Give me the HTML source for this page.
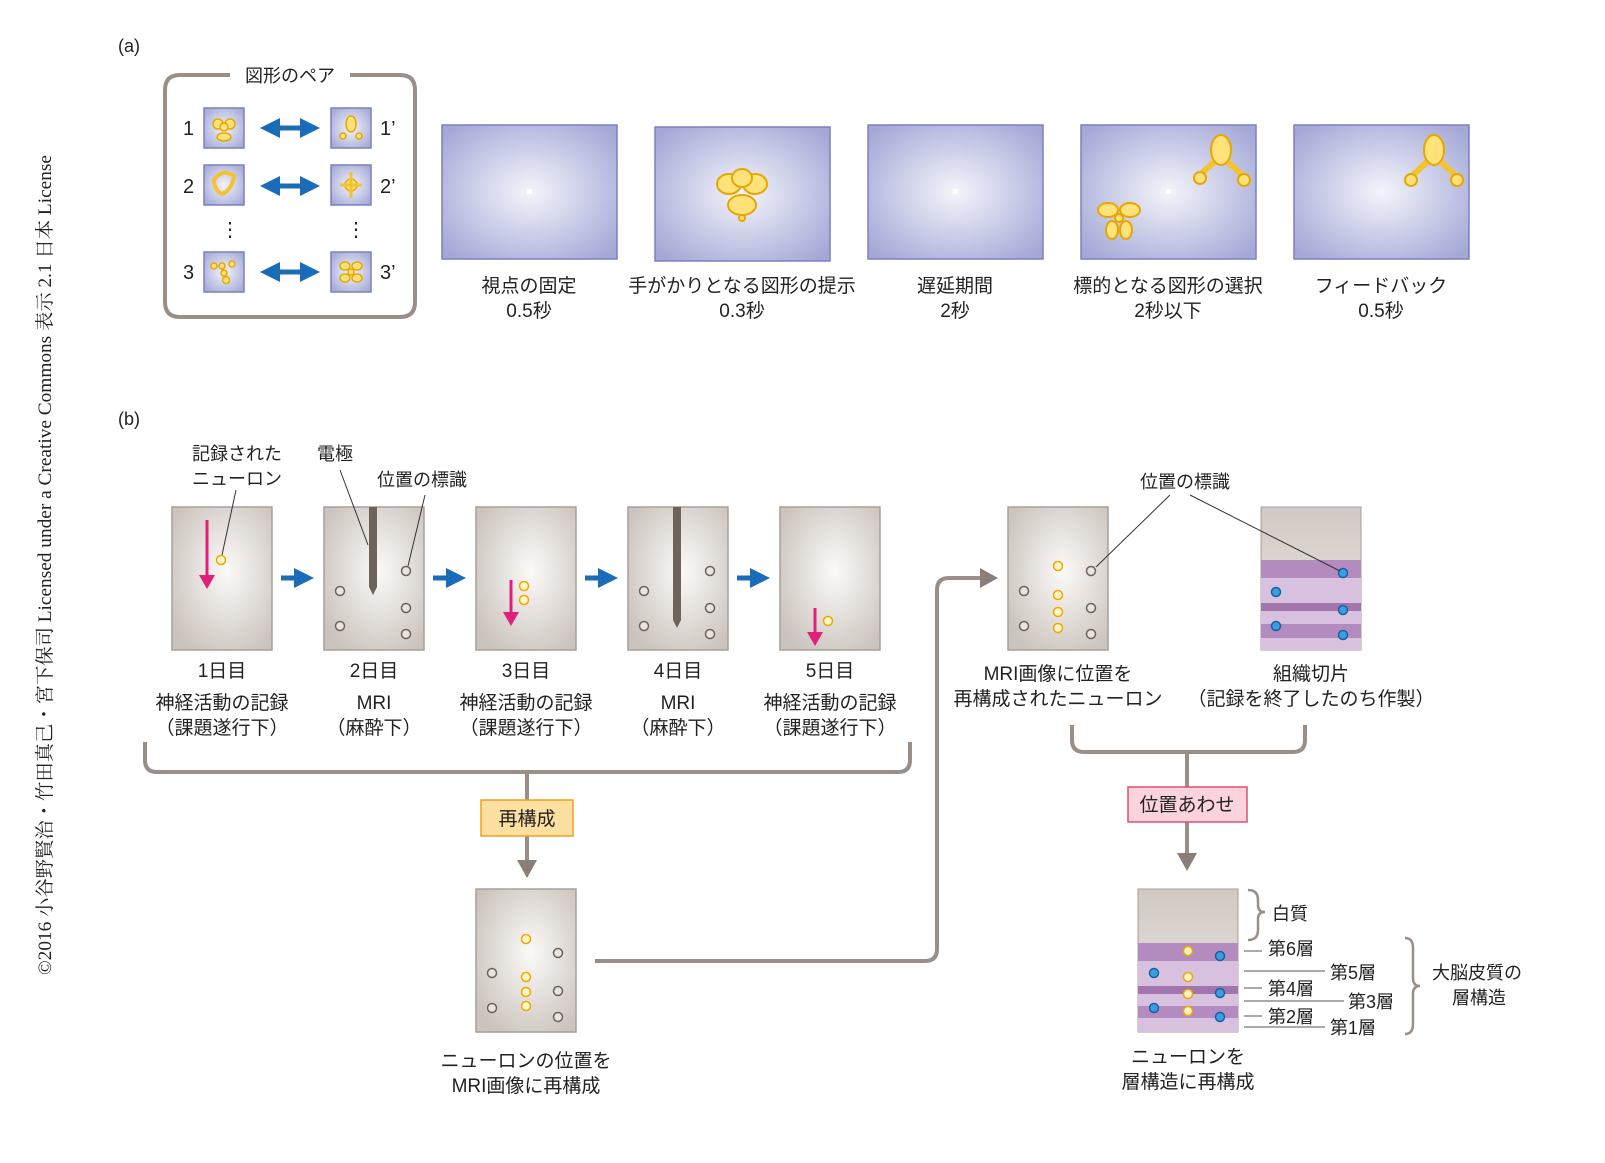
<!DOCTYPE html>
<html><head><meta charset="utf-8"><style>
body{margin:0;background:#fff}
svg text{font-family:"Liberation Sans","Noto Sans CJK JP",sans-serif;fill:#222}
</style></head><body>
<svg width="1605" height="1158" viewBox="0 0 1605 1158" xmlns="http://www.w3.org/2000/svg">
<defs>
<radialGradient id="bl" cx="50%" cy="50%" r="65%"><stop offset="0" stop-color="#f4f4fb"/><stop offset="1" stop-color="#a3a8d6"/></radialGradient>
<radialGradient id="gr" cx="55%" cy="45%" r="65%"><stop offset="0" stop-color="#fbfaf8"/><stop offset="1" stop-color="#cbc3bd"/></radialGradient>
<linearGradient id="gt" x1="0" y1="0" x2="0" y2="1"><stop offset="0" stop-color="#d0c8c3"/><stop offset="1" stop-color="#eeeae6"/></linearGradient>
<marker id="ba" markerWidth="4" markerHeight="4" refX="2" refY="2" orient="auto-start-reverse"><path d="M0,0L4,2L0,4Z" fill="#1a6bb8"/></marker>
</defs>
<text x="118" y="52" font-size="18">(a)</text>
<text x="118" y="425" font-size="18">(b)</text>
<text transform="translate(51,975) rotate(-90)" font-size="19" textLength="820" lengthAdjust="spacingAndGlyphs" style="font-family:'Liberation Serif','Noto Serif CJK SC',serif">©2016 小谷野賢治・竹田真己・宮下保司 Licensed under a Creative Commons 表示 2.1 日本 License</text>

<path d="M230,75 H180 Q165,75 165,90 V302 Q165,317 180,317 H400 Q415,317 415,302 V90 Q415,75 400,75 H350" fill="none" stroke="#9b8e86" stroke-width="4"/>
<text x="290" y="82" font-size="18" text-anchor="middle">図形のペア</text>
<g font-size="20">
<text x="183" y="135">1</text><text x="380" y="135">1’</text>
<text x="183" y="193">2</text><text x="380" y="193">2’</text>
<text x="183" y="279">3</text><text x="380" y="279">3’</text>
<text x="220" y="236">⋮</text><text x="346" y="236">⋮</text>
</g>
<g stroke="#7a80c0" stroke-width="1.5" fill="url(#bl)">
<rect x="204" y="108" width="40" height="40"/><rect x="331" y="108" width="40" height="40"/>
<rect x="204" y="165" width="40" height="40"/><rect x="331" y="165" width="40" height="40"/>
<rect x="204" y="252" width="40" height="40"/><rect x="331" y="252" width="40" height="40"/>
</g>
<g fill="#ffe27a" stroke="#e7a700" stroke-width="1.5">
<circle cx="218" cy="124" r="5"/><circle cx="230" cy="124" r="5"/><circle cx="224" cy="127" r="4"/><ellipse cx="224" cy="137" rx="7" ry="4"/>
<ellipse cx="351" cy="124" rx="5" ry="8"/><circle cx="343" cy="136" r="3"/><circle cx="359" cy="136" r="3"/>
<path d="M214,180 Q222,168 234,176 Q232,190 222,194 Q214,190 214,180Z" fill="none" stroke-width="4" stroke="#f4c330"/>
<circle cx="351" cy="185" r="6"/><path d="M340,185 H362 M351,172 V198" stroke-width="3" stroke="#f4c330"/>
<circle cx="214" cy="266" r="3"/><circle cx="222" cy="266" r="3"/><circle cx="232" cy="264" r="3"/><circle cx="226" cy="280" r="3.5"/><circle cx="224" cy="273" r="3"/>
<ellipse cx="345" cy="266" rx="5" ry="4"/><ellipse cx="357" cy="266" rx="5" ry="4"/><ellipse cx="345" cy="278" rx="5" ry="4"/><ellipse cx="357" cy="278" rx="5" ry="4"/><circle cx="351" cy="272" r="3"/>
</g>
<g stroke="#1a6bb8" stroke-width="5" marker-start="url(#ba)" marker-end="url(#ba)">
<line x1="270" y1="128" x2="310" y2="128"/><line x1="270" y1="186" x2="310" y2="186"/><line x1="270" y1="272" x2="310" y2="272"/>
</g>

<g stroke="#7a80c0" stroke-width="1.5" fill="url(#bl)">
<rect x="442" y="125" width="175" height="134"/><rect x="655" y="127" width="175" height="134"/>
<rect x="868" y="125" width="175" height="134"/><rect x="1081" y="125" width="175" height="134"/><rect x="1294" y="125" width="175" height="134"/>
</g>
<g fill="#fff"><rect x="527" y="189" width="5" height="5"/><rect x="953" y="189" width="5" height="5"/><rect x="1166" y="189" width="5" height="5"/></g>
<g fill="#ffe27a" stroke="#e7a700" stroke-width="2">
<ellipse cx="729" cy="184" rx="12" ry="10"/><ellipse cx="755" cy="184" rx="12" ry="10"/><ellipse cx="742" cy="178" rx="10" ry="9"/><ellipse cx="742" cy="205" rx="14" ry="10"/><circle cx="742" cy="218" r="3"/>
<ellipse cx="1221" cy="150" rx="10" ry="15"/><path d="M1214,162 L1200,175 M1228,162 L1242,175" stroke="#f4c330" stroke-width="6"/><circle cx="1200" cy="178" r="6"/><circle cx="1244" cy="180" r="6"/>
<ellipse cx="1434" cy="150" rx="10" ry="15"/><path d="M1427,162 L1413,175 M1441,162 L1455,175" stroke="#f4c330" stroke-width="6"/><circle cx="1411" cy="180" r="6"/><circle cx="1457" cy="180" r="6"/>
<ellipse cx="1108" cy="210" rx="10" ry="7"/><ellipse cx="1130" cy="210" rx="10" ry="7"/><ellipse cx="1112" cy="230" rx="6" ry="9"/><ellipse cx="1126" cy="230" rx="6" ry="9"/><circle cx="1119" cy="218" r="4"/>
</g>
<g font-size="19" text-anchor="middle">
<text x="529" y="292">視点の固定</text><text x="529" y="317">0.5秒</text>
<text x="742" y="292">手がかりとなる図形の提示</text><text x="742" y="317">0.3秒</text>
<text x="955" y="292">遅延期間</text><text x="955" y="317">2秒</text>
<text x="1168" y="292">標的となる図形の選択</text><text x="1168" y="317">2秒以下</text>
<text x="1381" y="292">フィードバック</text><text x="1381" y="317">0.5秒</text>
</g>

<g stroke="#a99f98" stroke-width="1.5" fill="url(#gr)">
<rect x="172" y="507" width="100" height="143"/><rect x="324" y="507" width="100" height="143"/><rect x="476" y="507" width="100" height="143"/>
<rect x="628" y="507" width="100" height="143"/><rect x="780" y="507" width="100" height="143"/>
<rect x="1008" y="507" width="100" height="143"/><rect x="476" y="889" width="100" height="143"/>
</g>
<rect x="1261" y="507" width="100" height="143" fill="url(#gt)" stroke="#a99f98"/>
<rect x="1261" y="560" width="100" height="90" fill="#d7c1df"/>
<rect x="1261" y="560" width="100" height="18" fill="#b48bbf"/><rect x="1261" y="603" width="100" height="8" fill="#a275ad"/><rect x="1261" y="624" width="100" height="14" fill="#b48bbf"/>
<rect x="1138" y="889" width="100" height="143" fill="url(#gt)" stroke="#a99f98"/>
<rect x="1138" y="943" width="100" height="89" fill="#d7c1df"/>
<rect x="1138" y="943" width="100" height="18" fill="#b48bbf"/><rect x="1138" y="986" width="100" height="8" fill="#a275ad"/><rect x="1138" y="1006" width="100" height="12" fill="#b48bbf"/>
<path d="M369,507 h8 v80 l-4,8 l-4,-8z" fill="#6e625c"/><path d="M673,507 h8 v113 l-4,8 l-4,-8z" fill="#6e625c"/>
<g stroke="#e0207a" stroke-width="3" fill="#e0207a">
<line x1="207" y1="520" x2="207" y2="578"/><path d="M199,575 h16 l-8,14z" stroke="none"/>
<line x1="511" y1="580" x2="511" y2="615"/><path d="M503,612 h16 l-8,14z" stroke="none"/>
<line x1="815" y1="608" x2="815" y2="635"/><path d="M807,632 h16 l-8,14z" stroke="none"/>
</g>
<g fill="#e8e4e0" stroke="#6e625c" stroke-width="1.5">
<circle cx="340" cy="591" r="4.5"/><circle cx="340" cy="626" r="4.5"/><circle cx="406" cy="571" r="4.5"/><circle cx="406" cy="608" r="4.5"/><circle cx="406" cy="634" r="4.5"/>
<circle cx="644" cy="591" r="4.5"/><circle cx="644" cy="626" r="4.5"/><circle cx="710" cy="571" r="4.5"/><circle cx="710" cy="608" r="4.5"/><circle cx="710" cy="634" r="4.5"/>
<circle cx="1024" cy="591" r="4.5"/><circle cx="1024" cy="626" r="4.5"/><circle cx="1091" cy="571" r="4.5"/><circle cx="1091" cy="608" r="4.5"/><circle cx="1091" cy="634" r="4.5"/>
<circle cx="492" cy="973" r="4.5"/><circle cx="492" cy="1008" r="4.5"/><circle cx="558" cy="953" r="4.5"/><circle cx="558" cy="991" r="4.5"/><circle cx="558" cy="1017" r="4.5"/>
</g>
<g fill="#fff6c8" stroke="#f0a800" stroke-width="1.5">
<circle cx="221" cy="560" r="4.5"/><circle cx="524" cy="586" r="4.5"/><circle cx="524" cy="600" r="4.5"/><circle cx="828" cy="621" r="4.5"/>
<circle cx="1058" cy="566" r="4.5"/><circle cx="1058" cy="595" r="4.5"/><circle cx="1058" cy="612" r="4.5"/><circle cx="1058" cy="628" r="4.5"/>
<circle cx="526" cy="939" r="4.5"/><circle cx="526" cy="977" r="4.5"/><circle cx="526" cy="992" r="4.5"/><circle cx="526" cy="1006" r="4.5"/>
<circle cx="1188" cy="951" r="4.5"/><circle cx="1188" cy="977" r="4.5"/><circle cx="1188" cy="994" r="4.5"/><circle cx="1188" cy="1011" r="4.5"/>
</g>
<g fill="#38a0e0" stroke="#1a5fa0" stroke-width="1.5">
<circle cx="1343" cy="573" r="4.5"/><circle cx="1276" cy="592" r="4.5"/><circle cx="1343" cy="610" r="4.5"/><circle cx="1276" cy="626" r="4.5"/><circle cx="1343" cy="635" r="4.5"/>
<circle cx="1220" cy="956" r="4.5"/><circle cx="1154" cy="973" r="4.5"/><circle cx="1220" cy="993" r="4.5"/><circle cx="1154" cy="1008" r="4.5"/><circle cx="1220" cy="1017" r="4.5"/>
</g>
<g stroke="#1a6bb8" stroke-width="5" marker-end="url(#ba)">
<line x1="281" y1="578" x2="304" y2="578"/><line x1="433" y1="578" x2="456" y2="578"/><line x1="585" y1="578" x2="608" y2="578"/><line x1="737" y1="578" x2="760" y2="578"/>
</g>
<g stroke="#333" stroke-width="1" fill="none">
<line x1="236" y1="490" x2="222" y2="555"/><line x1="340" y1="470" x2="368" y2="545"/><line x1="425" y1="495" x2="408" y2="566"/>
<line x1="1170" y1="495" x2="1096" y2="567"/><line x1="1190" y1="495" x2="1340" y2="571"/>
</g>
<g font-size="18" text-anchor="middle">
<text x="237" y="460">記録された</text><text x="237" y="485">ニューロン</text>
<text x="335" y="460">電極</text><text x="422" y="486">位置の標識</text><text x="1185" y="488">位置の標識</text>
</g>
<g font-size="19" text-anchor="middle">
<text x="222" y="677">1日目</text><text x="222" y="709">神経活動の記録</text><text x="222" y="734">（課題遂行下）</text>
<text x="374" y="677">2日目</text><text x="374" y="709">MRI</text><text x="374" y="734">（麻酔下）</text>
<text x="526" y="677">3日目</text><text x="526" y="709">神経活動の記録</text><text x="526" y="734">（課題遂行下）</text>
<text x="678" y="677">4日目</text><text x="678" y="709">MRI</text><text x="678" y="734">（麻酔下）</text>
<text x="830" y="677">5日目</text><text x="830" y="709">神経活動の記録</text><text x="830" y="734">（課題遂行下）</text>
<text x="1058" y="680">MRI画像に位置を</text><text x="1058" y="705">再構成されたニューロン</text>
<text x="1311" y="680">組織切片</text><text x="1311" y="705">（記録を終了したのち作製）</text>
<text x="526" y="1067">ニューロンの位置を</text><text x="526" y="1092">MRI画像に再構成</text>
<text x="1188" y="1063">ニューロンを</text><text x="1188" y="1088">層構造に再構成</text>
</g>
<g stroke="#9b8e86" stroke-width="4" fill="none">
<path d="M145,742 V760 Q145,772 157,772 H898 Q910,772 910,760 V742"/>
<line x1="527" y1="772" x2="527" y2="800"/><line x1="527" y1="836" x2="527" y2="862"/>
<path d="M595,961 H925 Q937,961 937,949 V590 Q937,578 949,578 H982"/>
<path d="M1072,725 V740 Q1072,752 1084,752 H1293 Q1305,752 1305,740 V725"/>
<line x1="1187" y1="752" x2="1187" y2="787"/><line x1="1187" y1="822" x2="1187" y2="855"/>
</g>
<g fill="#8a7e77"><path d="M517,860 h20 l-10,18z"/><path d="M1177,853 h20 l-10,18z"/><path d="M980,568 v20 l18,-10z"/></g>
<rect x="481" y="800" width="92" height="36" fill="#fde0a0" stroke="#f0a020" stroke-width="1.5"/>
<text x="527" y="825" font-size="19" text-anchor="middle">再構成</text>
<rect x="1128" y="787" width="119" height="35" fill="#fbd3dc" stroke="#e05070" stroke-width="1.5"/>
<text x="1187" y="811" font-size="19" text-anchor="middle">位置あわせ</text>
<g stroke="#9b8e86" stroke-width="2.5" fill="none">
<path d="M1248,890 Q1258,890 1258,900 V905 Q1258,912 1265,912 Q1258,912 1258,919 V930 Q1258,940 1248,940"/>
<path d="M1405,938 Q1413,938 1413,948 V978 Q1413,986 1420,986 Q1413,986 1413,994 V1024 Q1413,1034 1405,1034"/>
</g>
<g stroke="#555" stroke-width="1">
<line x1="1244" y1="951" x2="1262" y2="951"/><line x1="1244" y1="971" x2="1325" y2="971"/><line x1="1244" y1="988" x2="1262" y2="988"/>
<line x1="1244" y1="1001" x2="1344" y2="1001"/><line x1="1244" y1="1016" x2="1262" y2="1016"/><line x1="1244" y1="1027" x2="1325" y2="1027"/>
</g>
<g font-size="18">
<text x="1272" y="920">白質</text><text x="1268" y="955">第6層</text><text x="1330" y="979">第5層</text><text x="1268" y="995">第4層</text>
<text x="1348" y="1008">第3層</text><text x="1268" y="1023">第2層</text><text x="1330" y="1034">第1層</text>
<text x="1432" y="979">大脳皮質の</text><text x="1452" y="1004">層構造</text>
</g>
</svg>
</body></html>
